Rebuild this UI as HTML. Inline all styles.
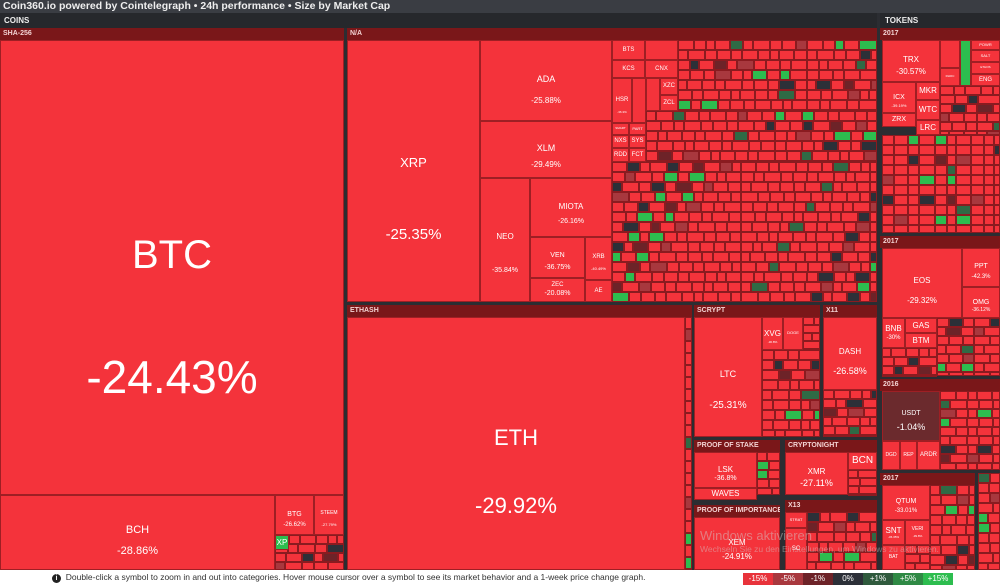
<!DOCTYPE html>
<html><head><meta charset="utf-8">
<style>
body{margin:0;width:1000px;height:587px;overflow:hidden;background:#2b2d32;font-family:"Liberation Sans",sans-serif;position:relative}
div.a{position:absolute;box-sizing:border-box}
.t{background:#f4333b;border:1px solid #9e1f24;color:#fff;display:flex;flex-direction:column;align-items:center;justify-content:center;text-align:center;overflow:hidden;line-height:1.15}
.h{background:#7a1719;color:#f3d3d3;font-size:7px;padding:2px 3px;font-weight:bold;white-space:nowrap;overflow:hidden}
</style></head><body>
<div class="a" style="left:0;top:0;width:1000px;height:13px;background:#3a3d43;color:#eee;font-size:10.5px;font-weight:bold;padding-left:3px;line-height:13px">Coin360.io powered by Cointelegraph • 24h performance • Size by Market Cap</div>
<div class="a" style="left:0;top:13px;width:877px;height:15px;background:#26282c;color:#eee;font-size:8px;font-weight:bold;padding:3px 4px">COINS</div>
<div class="a" style="left:880px;top:13px;width:120px;height:15px;background:#26282c;color:#eee;font-size:8px;font-weight:bold;padding:3px 5px">TOKENS</div>
<div id="root"></div>
<div class="a" style="left:0;top:570px;width:1000px;height:17px;background:#fff"></div>
<div class="a" style="left:52px;top:572px;font-size:8.5px;color:#333;white-space:nowrap"><span style="display:inline-block;width:9px;height:9px;border-radius:50%;background:#222;color:#fff;font-size:7px;text-align:center;line-height:9px;font-weight:bold">i</span>&nbsp; Double-click a symbol to zoom in and out into categories. Hover mouse cursor over a symbol to see its market behavior and a 1-week price change graph.</div>
<div id="legend"></div>
<div class="a" style="left:700px;top:528px;font-size:13px;color:rgba(210,210,210,0.45);white-space:nowrap">Windows aktivieren</div>
<div class="a" style="left:700px;top:544px;font-size:8.5px;color:rgba(210,210,210,0.45);white-space:nowrap">Wechseln Sie zu den Einstellungen, um Windows zu aktivieren.</div>
<script>
const legendLabels=["-15%","-5%","-1%","0%","+1%","+5%","+15%"];
const legendColors=["#e8333b","#a8383e","#6d2328","#2c3038","#2f5a3d","#2f8a45","#2dbd4f"];
const root=document.getElementById('root');
function mk(x,y,w,h,cls,name,inter){const d=document.createElement('div');d.className='a '+cls;d.style.left=x+'px';d.style.top=y+'px';d.style.width=w+'px';d.style.height=h+'px';


root.appendChild(d);return d;}
function hdr(x,y,w,label){const d=mk(x,y,w,12,'h',label.toLowerCase().replace(/ /g,'-')+'-header',false);d.textContent=label;}
function tile(x,y,w,h,sym,pct,fs,ps,bg){const d=mk(x,y,w,h,'t',(sym||'unnamed').toLowerCase()+'-tile',true);if(bg)d.style.background=bg;
let m=Math.max(1,Math.round(0.27*h-(fs+ps)/2*1.15));
if(pct&&h>30)d.style.paddingTop=Math.round(0.22*h)+'px';
d.innerHTML='<div style="font-size:'+fs+'px">'+sym+'</div>'+(pct?'<div style="font-size:'+ps+'px;margin-top:'+m+'px">'+pct+'</div>':'');}
const fillColors=["#f4333b","#f4333b","#f4333b","#f4333b","#f4333b","#f4333b","#2dbd4f","#f4333b","#f4333b","#2c3038","#f4333b","#f4333b","#a8383e","#f4333b","#f4333b","#f4333b","#f4333b","#f4333b","#2f6a45","#f4333b","#f4333b","#f4333b","#f4333b","#6d2328","#f4333b","#f4333b","#f4333b","#f4333b","#f4333b","#2c3038","#f4333b","#f4333b","#f4333b","#2dbd4f","#f4333b","#f4333b","#f4333b","#a8383e","#f4333b","#f4333b","#f4333b"];
const fillWidths=[14,11,16,12,9,15,13,10,17,12];
let k=0;
function fill(x,y,w,h,rh){rh=rh||10;const bg=mk(x,y,w,h,'','filler-group',false);bg.style.background='#9e1f24';
for(let yy=y;yy<y+h;yy+=rh){const hh=Math.min(rh,y+h-yy);for(let xx=x;xx<x+w;){let cw=fillWidths[k%fillWidths.length];if(x+w-xx<cw+6)cw=x+w-xx;
const c=mk(xx,yy,cw,hh,'','coin-cell',true);c.style.background=fillColors[(k*7)%fillColors.length];c.style.border='1px solid #8a1b20';
k++;xx+=cw;}}}
// SHA-256
hdr(0,28,344,'SHA-256');
tile(0,40,344,455,'BTC','-24.43%',40,46);
tile(0,495,275,75,'BCH','-28.86%',11,11);
tile(275,495,39,40,'BTG','-26.62%',7,6);
tile(314,495,30,40,'STEEM','-27.79%',5,4);
fill(275,535,69,35,9);
tile(275,535,14,15,'XP','',8,6,'#2dbd4f');
// N/A
hdr(347,28,530,'N/A');
fill(678,40,199,71,10);
fill(646,111,231,51,10);
fill(612,162,265,140,10);
tile(347,40,133,262,'XRP','-25.35%',13,15);
tile(480,40,132,81,'ADA','-25.88%',9,8);
tile(480,121,132,57,'XLM','-29.49%',9,8);
tile(480,178,50,124,'NEO','-35.84%',8,7);
tile(530,178,82,59,'MIOTA','-26.16%',8,7);
tile(530,237,55,41,'VEN','-36.75%',7,7);
tile(530,278,55,24,'ZEC','-20.08%',6,7);
tile(585,237,27,43,'XRB','-40.49%',6,4);
tile(585,280,27,22,'AE','',6,6);
tile(612,40,33,20,'BTS','',6,6);
tile(612,60,33,18,'KCS','',6,6);
tile(645,40,33,20,'','',6,6);
tile(645,60,33,18,'CNX','',6,6);
tile(612,78,20,45,'HSR','-36.3%',6,3);
tile(632,78,14,45,'','',6,6);
tile(646,78,14,33,'','',6,6);
tile(660,78,18,17,'XZC','',6,6);
tile(660,95,18,16,'ZCL','',6,6);
tile(612,123,17,12,'SMART','',3,3);
tile(629,123,17,12,'PART','',4,4);
tile(612,135,17,13,'NXS','',6,6);
tile(629,135,17,13,'SYS','',6,6);
tile(612,148,17,14,'RDD','',6,6);
tile(629,148,17,14,'FCT','',6,6);
// ETHASH
hdr(347,305,345,'ETHASH');
tile(347,317,338,253,'ETH','-29.92%',22,22);
fill(685,317,7,253,12);
// SCRYPT
hdr(694,305,126,'SCRYPT');
tile(694,317,68,120,'LTC','-25.31%',9,10);
tile(762,317,21,33,'XVG','-30.8%',8,3);
tile(783,317,20,33,'DOGE','',4,4);
fill(803,317,17,33,8);
fill(762,350,58,87,10);
hdr(823,305,54,'X11');
tile(823,317,54,73,'DASH','-26.58%',8,9);
fill(823,390,54,47,9);
// POS
hdr(694,440,86,'PROOF OF STAKE');
fill(757,452,23,43,9);
tile(694,452,63,36,'LSK','-36.8%',8,7);
tile(694,488,63,12,'WAVES','',8,6);
hdr(785,440,92,'CRYPTONIGHT');
tile(785,452,63,43,'XMR','-27.11%',8,9);
tile(848,452,29,18,'BCN','',10,6);
fill(848,470,29,25,8);
hdr(694,505,86,'PROOF OF IMPORTANCE');
tile(694,517,86,53,'XEM','-24.91%',8,8);
hdr(785,500,92,'X13');
fill(807,512,70,58,10);
tile(785,512,22,16,'STRAT','',4,4);
tile(785,528,22,42,'SC','',6,6);
// TOKENS 2017
hdr(880,28,120,'2017');
fill(940,86,60,49,9);
fill(882,135,118,98,10);
tile(882,40,58,42,'TRX','-30.57%',8,8);
tile(882,82,34,31,'ICX','-39.19%',7,4);
tile(882,113,34,14,'ZRX','',7,6);
tile(916,82,24,18,'MKR','',8,6);
tile(916,100,24,20,'WTC','',8,6);
tile(916,120,24,15,'LRC','',8,6);
tile(940,40,20,28,'','',6,6);
tile(940,68,20,18,'RHOC','',3,3);
tile(960,40,11,46,'','',6,6,'#2dbd4f');
tile(971,40,29,10,'POWR','',4,4);
tile(971,50,29,12,'SALT','',4,4);
tile(971,62,29,12,'ETHOS','',3,3);
tile(971,74,29,12,'ENG','',6,6);
hdr(880,236,120,'2017');
fill(937,318,63,58,9);
fill(882,348,55,28,9);
tile(882,248,80,70,'EOS','-29.32%',8,8);
tile(962,248,38,39,'PPT','-42.3%',7,6);
tile(962,287,38,31,'OMG','-36.12%',7,5);
tile(882,318,23,30,'BNB','-30%',8,6);
tile(905,318,32,15,'GAS','',8,6);
tile(905,333,32,15,'BTM','',8,6);
hdr(880,379,120,'2016');
fill(940,391,60,79,9);
tile(882,391,58,50,'USDT','-1.04%',7,9,'#6b2a2d');
tile(882,441,18,29,'DGD','',5,5);
tile(900,441,17,29,'REP','',5,5);
tile(917,441,23,29,'ARDR','',6,6);
hdr(880,473,95,'2017');
fill(930,485,45,85,10);
fill(905,545,25,25,9);
fill(978,473,22,97,10);
tile(882,485,48,35,'QTUM','-33.01%',7,6);
tile(882,520,23,25,'SNT','-36.35%',8,3);
tile(905,520,25,25,'VERI','-39.8%',5,3);
tile(882,545,23,25,'BAT','',5,5);
// legend
const lg=document.getElementById('legend');
legendLabels.forEach((l,i)=>{const d=document.createElement('div');d.className='a';
d.style.cssText='left:'+(743+i*30)+'px;top:573px;width:30px;height:12px;background:'+legendColors[i]+';color:#fff;font-size:8px;text-align:center;line-height:12px';


d.textContent=l;lg.appendChild(d);});
</script>
</body></html>
